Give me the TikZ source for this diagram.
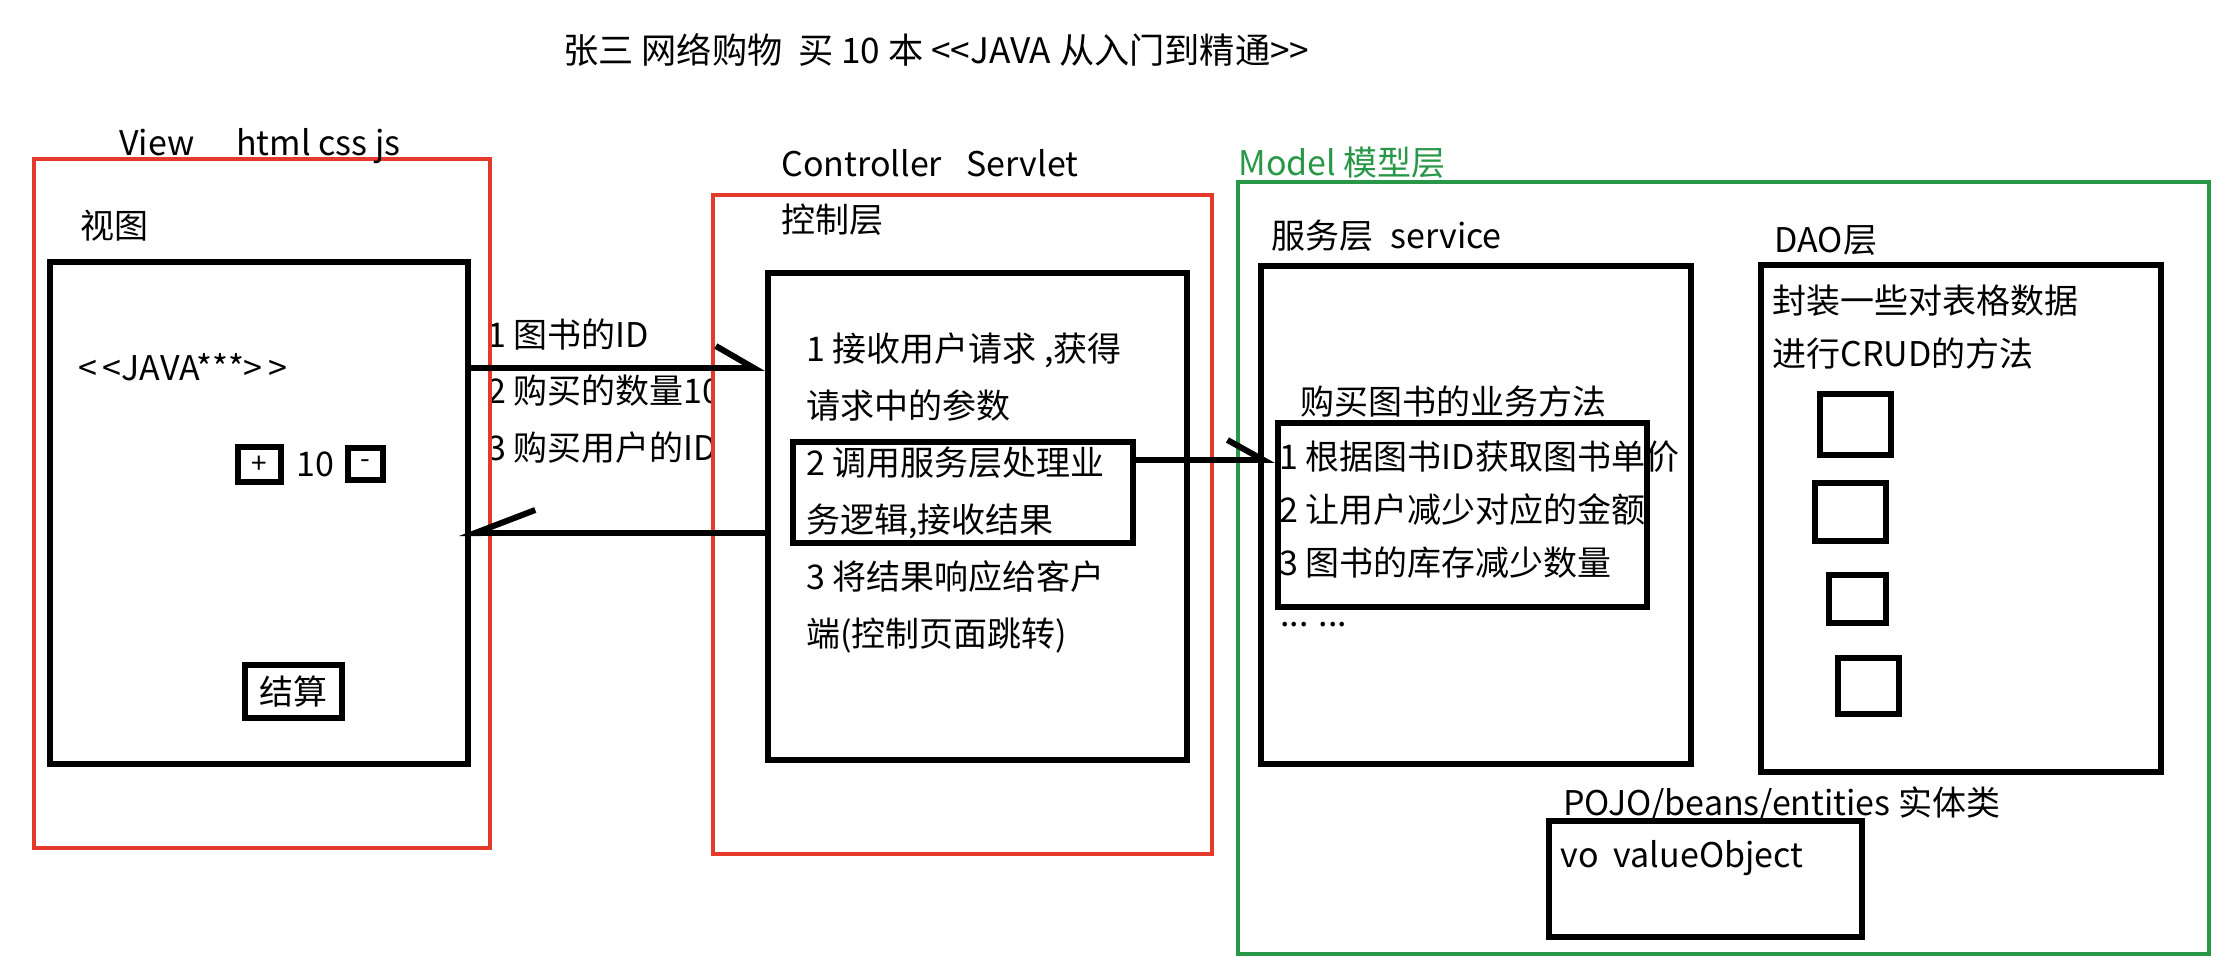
\documentclass[tikz,border=0pt]{standalone}
\usepackage{fontspec}
\newfontfamily\hei{Noto Sans CJK SC}
\usetikzlibrary{arrows.meta}
\definecolor{zonered}{RGB}{229,57,43}
\definecolor{zonegreen}{RGB}{41,151,72}

\begin{document}
\begin{tikzpicture}[x=0.5pt, y=-0.5pt,
        font=\hei\fontsize{17}{28}\selectfont,
        zone/.style={draw=zonered, fill=white, line width=2.4pt, inner sep=0pt},
        box/.style={draw, line width=3pt, inner sep=0pt},
        small/.style={font=\hei\fontsize{14}{14}\selectfont},
        txt/.style={anchor=west, inner sep=0pt, align=left, font=\hei\fontsize{17}{#1}\selectfont},
        txt/.default=28pt,
        ask/.style={line width=3pt, -{Straight Barb[harpoon, length=19pt, width=22pt]}},
        reply/.style={line width=3pt, shorten >=-6pt, -{Straight Barb[harpoon, swap, length=30pt, width=23pt]}},
        call/.style={line width=3pt, -{Straight Barb[harpoon, length=18pt, width=20pt]}}
    ]
        \useasboundingbox (0,0) rectangle (2227,962);

        \node[txt, font=\hei\fontsize{17.6}{22}\selectfont] (title) at (563,50) {张三 网络购物\ \ 买 10 本 <<JAVA 从入门到精通>>};

        % Request data (the zones cover its ends)
        \node[txt=28.25pt] (params) at (487,391) {1 图书的ID\\2 购买的数量10\\3 购买用户的ID};

        % View
        \node[zone, minimum width=228pt, minimum height=344.5pt] (viewzone) at (262,503.5) {};
        \node[txt] (viewtitle) at (119,146) {View\quad\ html css js};
        \node[txt] (viewname) at (80,226) {视图};
        \node[box, minimum width=209pt, minimum height=251pt] (viewbox) at (259,513) {};
        \node[txt] (book) at (78,367) {<\,<JAVA***>\,>};
        \node[box, small, minimum width=21.5pt, minimum height=17.5pt] (plus) at (259.5,464.5) {+};
        \node (count) at (315,464) {10};
        \node[box, small, minimum width=17.5pt, minimum height=16pt] (minus) at (365.5,464) {-};
        \node[box, minimum width=48.5pt, minimum height=26.5pt] (pay) at (293.5,691.5) {结算};

        % Controller
        \node[zone, minimum width=249.5pt, minimum height=329.5pt] (ctrlzone) at (962.5,524.5) {};
        \node[txt] (ctrltitle) at (781,163) {Controller\enspace\ Servlet};
        \node[txt] (ctrlname) at (781,220) {控制层};
        \node[box, minimum width=209.5pt, minimum height=243.5pt] (ctrlbox) at (977.5,516.5) {};
        \node[box, minimum width=170pt, minimum height=50.5pt] (callbox) at (963,492.5) {};
        \node[txt=28.5pt] (steps) at (806,493) {1 接收用户请求 ,获得\\请求中的参数\\2 调用服务层处理业\\务逻辑,接收结果\\3 将结果响应给客户\\端(控制页面跳转)};

        % Model
        \node[zone, draw=zonegreen, minimum width=485.5pt, minimum height=386pt] (modelzone) at (1723.5,568) {};
        \node[txt, text=zonegreen] (modeltitle) at (1238,163) {Model 模型层};

        % Service
        \node[txt] (servicetitle) at (1271,236) {服务层\enspace service};
        \node[box, minimum width=215pt, minimum height=248.5pt] (servicebox) at (1476,515) {};
        \node[txt] (bizname) at (1300,402) {购买图书的业务方法};
        \node[box, minimum width=184.5pt, minimum height=92pt] (bizbox) at (1462.5,515) {};
        \node[txt=26.5pt] (bizsteps) at (1279,510) {1 根据图书ID获取图书单价\\2 让用户减少对应的金额\\3 图书的库存减少数量};
        \node[txt] (more) at (1280,625) {... ...};

        % DAO
        \node[txt] (daotitle) at (1774,241) {DAO层};
        \node[box, minimum width=200pt, minimum height=253.5pt] (daobox) at (1961,518.5) {};
        \node[txt=26.5pt] (daotext) at (1772,327.5) {封装一些对表格数据\\进行CRUD的方法};
        \foreach \x/\y/\w/\h [count=\i] in {1855.5/424.5/35.5/30.5, 1850.5/512/35.5/29, 1857.5/599/28.5/24, 1868.5/686/30.5/28}
            \node[box, minimum width=\w pt, minimum height=\h pt] (table\i) at (\x,\y) {};

        % Entities
        \node[txt] (pojotitle) at (1563,804) {POJO/beans/entities 实体类};
        \node[box, minimum width=156.5pt, minimum height=58pt] (vobox) at (1705,879) {};
        \node[txt] (vo) at (1560,858) {vo~~valueObject};

        % Paths
        \coordinate (askL) at ([yshift=72.5pt]viewbox.east);
        \draw[ask] (askL) -- (askL -| ctrlbox.west);

        \coordinate (replyR) at ([yshift=-8.25pt]ctrlbox.west);
        \draw[reply] (replyR) -- (replyR -| viewbox.east);

        \coordinate (callL) at ([yshift=16.25pt]callbox.east);
        \draw[call] (callL) -- (callL -| bizbox.west);

    \end{tikzpicture}
\end{document}
